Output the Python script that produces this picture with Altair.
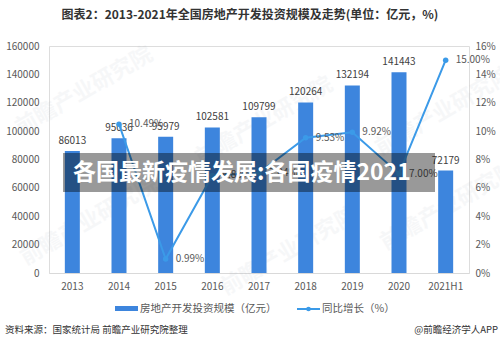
import altair as alt
import pandas as pd

# Investment scale (100 million yuan) and year-on-year growth (%)
years = ["2013", "2014", "2015", "2016", "2017", "2018", "2019", "2020", "2021H1"]
investment = [86013, 95036, 95979, 102581, 109799, 120264, 132194, 141443, 72179]
growth = [None, 10.49, 0.99, 6.88, 7.04, 9.53, 9.92, 7.00, 15.00]

left_ticks = [0, 20000, 40000, 60000, 80000, 100000, 120000, 140000, 160000]
right_ticks = [0, 2, 4, 6, 8, 10, 12, 14, 16]

title_text = "图表2：2013-2021年全国房地产开发投资规模及走势(单位：亿元，%)"
banner_text = "各国最新疫情发展:各国疫情2021"
legend_bar = "房地产开发投资规模（亿元）"
legend_line = "同比增长（%）"
source_text = "资料来源：国家统计局 前瞻产业研究院整理"
credit_text = "@前瞻经济学人APP"
watermark_text = "前瞻产业研究院"

BAR = "#3d85dd"
LINE = "#3b9ae8"
GREY = "#595959"
FONT = "Noto Sans CJK SC"

df = pd.DataFrame({"year": years, "investment": investment, "growth": growth})

x_enc = alt.X(
    "year:N", sort=years, title=None,
    scale=alt.Scale(paddingInner=0.1, paddingOuter=0.05),
    axis=alt.Axis(labelAngle=0, ticks=False, domainColor="#d9d9d9",
                  labelPadding=8, labelFontSize=10, labelColor=GREY, labelFont=FONT),
)

y_left = alt.Y(
    "investment:Q", title=None,
    scale=alt.Scale(domain=[0, 160000], nice=False),
    axis=alt.Axis(values=left_ticks, format="d", grid=False, domain=False, ticks=False,
                  labelPadding=10, labelFontSize=10, labelColor=GREY, labelFont=FONT),
)

y_right = alt.Y(
    "growth:Q", title=None,
    scale=alt.Scale(domain=[0, 16], nice=False),
    axis=alt.Axis(orient="right", values=right_ticks, grid=False, domain=False,
                  ticks=False, labelExpr="datum.value + '%'", labelPadding=6,
                  labelFontSize=10, labelColor=GREY, labelFont=FONT),
)

base = alt.Chart(df)

bars = base.mark_bar(size=15, color=BAR).encode(x=x_enc, y=y_left)
bar_labels = base.mark_text(dy=-10, fontSize=10, color="#404040", font=FONT).encode(
    x=x_enc, y=y_left, text=alt.Text("investment:Q", format="d")
)
bar_group = alt.layer(bars, bar_labels)

line_base = base.transform_filter("isValid(datum.growth)").transform_calculate(
    lbl="format(datum.growth, '.2f') + '%'"
)
line = line_base.mark_line(color=LINE, strokeWidth=2,
                           point=alt.OverlayMarkDef(color=LINE, size=30, filled=True)).encode(
    x=x_enc, y=y_right
)
line_labels = line_base.mark_text(align="left", dx=10, baseline="middle",
                                  fontSize=10, color=GREY, font=FONT).encode(
    x=x_enc, y=y_right, text="lbl:N"
)
line_group = alt.layer(line, line_labels)

plot = alt.layer(bar_group, line_group).resolve_scale(y="independent")

one = pd.DataFrame({"k": [0]})

def note(text, x, y, **kw):
    return alt.Chart(pd.DataFrame({"t": [text]})).mark_text(font=FONT, **kw).encode(
        x=alt.value(x), y=alt.value(y), text="t:N"
    )

# faint diagonal watermarks
wm_spots = [(35, 45), (215, 75), (395, 65), (40, 175), (240, 205), (400, 160)]
watermarks = [
    note(watermark_text, wx, wy, fontSize=22, fontWeight="bold", angle=330,
         color="#9aa5b5", opacity=0.08)
    for wx, wy in wm_spots
]

banner = alt.Chart(one).mark_rect(color="black", opacity=0.4).encode(
    x=alt.value(14), x2=alt.value(386), y=alt.value(107), y2=alt.value(146)
)
banner_label = note(banner_text, 24, 127, align="left", baseline="middle",
                    fontSize=23, fontWeight="bold", color="white")

title = note(title_text, 201, -31, align="center", baseline="middle",
             fontSize=12, fontWeight="bold", color="#333333")

leg_rect = alt.Chart(one).mark_rect(color=BAR).encode(
    x=alt.value(66), x2=alt.value(89), y=alt.value(260), y2=alt.value(265)
)
leg_bar_text = note(legend_bar, 91, 263, align="left", baseline="middle",
                    fontSize=10.5, color=GREY)
leg_line = alt.Chart(one).mark_rule(color=LINE, strokeWidth=2).encode(
    x=alt.value(248), x2=alt.value(271), y=alt.value(263)
)
leg_dot = alt.Chart(one).mark_point(color=LINE, filled=True, size=22, opacity=1).encode(
    x=alt.value(259.5), y=alt.value(263)
)
leg_line_text = note(legend_line, 273, 263, align="left", baseline="middle",
                     fontSize=10.5, color=GREY)

source = note(source_text, -44, 284, align="left", baseline="middle",
              fontSize=9.5, color="#333333")
credit = note(credit_text, 449, 284, align="right", baseline="middle",
              fontSize=9.5, color="#333333")

chart = alt.layer(
    *watermarks, plot, banner, banner_label, title,
    leg_rect, leg_bar_text, leg_line, leg_dot, leg_line_text, source, credit,
).properties(
    width=420, height=227,
    autosize=alt.AutoSizeParams(type="none"),
    padding={"left": 49, "right": 31, "top": 46, "bottom": 72},
).configure_view(stroke=None).configure(background="white")

chart.save("out.html", embed_options={"renderer": "svg", "actions": False})
